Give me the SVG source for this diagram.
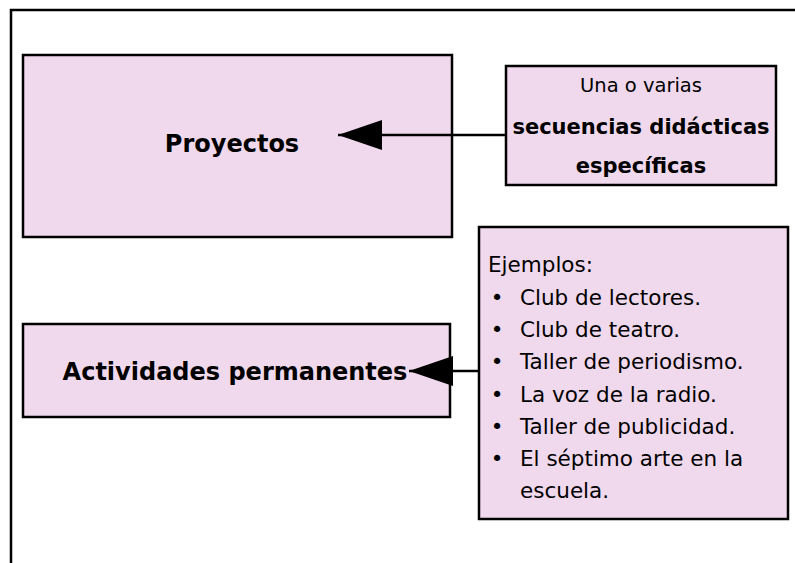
<svg xmlns="http://www.w3.org/2000/svg" width="795" height="563" viewBox="0 0 795 563">
<style>
.box{fill:#F0D9EC;stroke:#000;stroke-width:2.5}
.t{font-family:"DejaVu Sans","Noto Sans",sans-serif;fill:#000}
.b{font-weight:bold}
.conn{stroke:#000;stroke-width:2.5;fill:none}
.bu{text-anchor:middle}
</style>
<defs>
<marker id="ah" markerUnits="userSpaceOnUse" markerWidth="46" markerHeight="32" refX="44" refY="15" orient="auto">
<path d="M0,0 L44,15 L0,30 Z" fill="#000"/>
</marker>
</defs>
<rect width="795" height="563" fill="#fff"/>
<path d="M11,563 V10 H795" fill="none" stroke="#000" stroke-width="2.5"/>
<g id="proyectos">
<rect class="box" x="23" y="55" width="429" height="182"/>
<text class="t b" x="232" y="152" font-size="24" text-anchor="middle">Proyectos</text>
</g>
<g id="secuencias">
<rect class="box" x="506" y="66" width="270" height="119"/>
<text class="t" x="641" y="92" font-size="19.5" text-anchor="middle">Una o varias</text>
<text class="t b" x="641" y="134" font-size="21" text-anchor="middle">secuencias didácticas</text>
<text class="t b" x="641" y="173" font-size="21" text-anchor="middle">específicas</text>
</g>
<g id="actividades">
<rect class="box" x="23" y="324" width="427" height="93"/>
<text class="t b" x="235" y="380" font-size="24" text-anchor="middle">Actividades permanentes</text>
</g>
<g id="ejemplos">
<rect class="box" x="479" y="227" width="309" height="292"/>
<g class="t" font-size="21.5">
<text x="488" y="272">Ejemplos:</text>
<text class="bu" x="497" y="305">•</text><text x="520" y="305">Club de lectores.</text>
<text class="bu" x="497" y="337">•</text><text x="520" y="337">Club de teatro.</text>
<text class="bu" x="497" y="369">•</text><text x="520" y="369">Taller de periodismo.</text>
<text class="bu" x="497" y="402">•</text><text x="520" y="402">La voz de la radio.</text>
<text class="bu" x="497" y="434">•</text><text x="520" y="434">Taller de publicidad.</text>
<text class="bu" x="497" y="466">•</text><text x="520" y="466">El séptimo arte en la</text>
<text x="520" y="498">escuela.</text>
</g>
</g>
<g id="connectors">
<line class="conn" x1="506" y1="135" x2="338" y2="135" marker-end="url(#ah)"/>
<line class="conn" x1="479" y1="371" x2="409" y2="371" marker-end="url(#ah)"/>
</g>
</svg>
